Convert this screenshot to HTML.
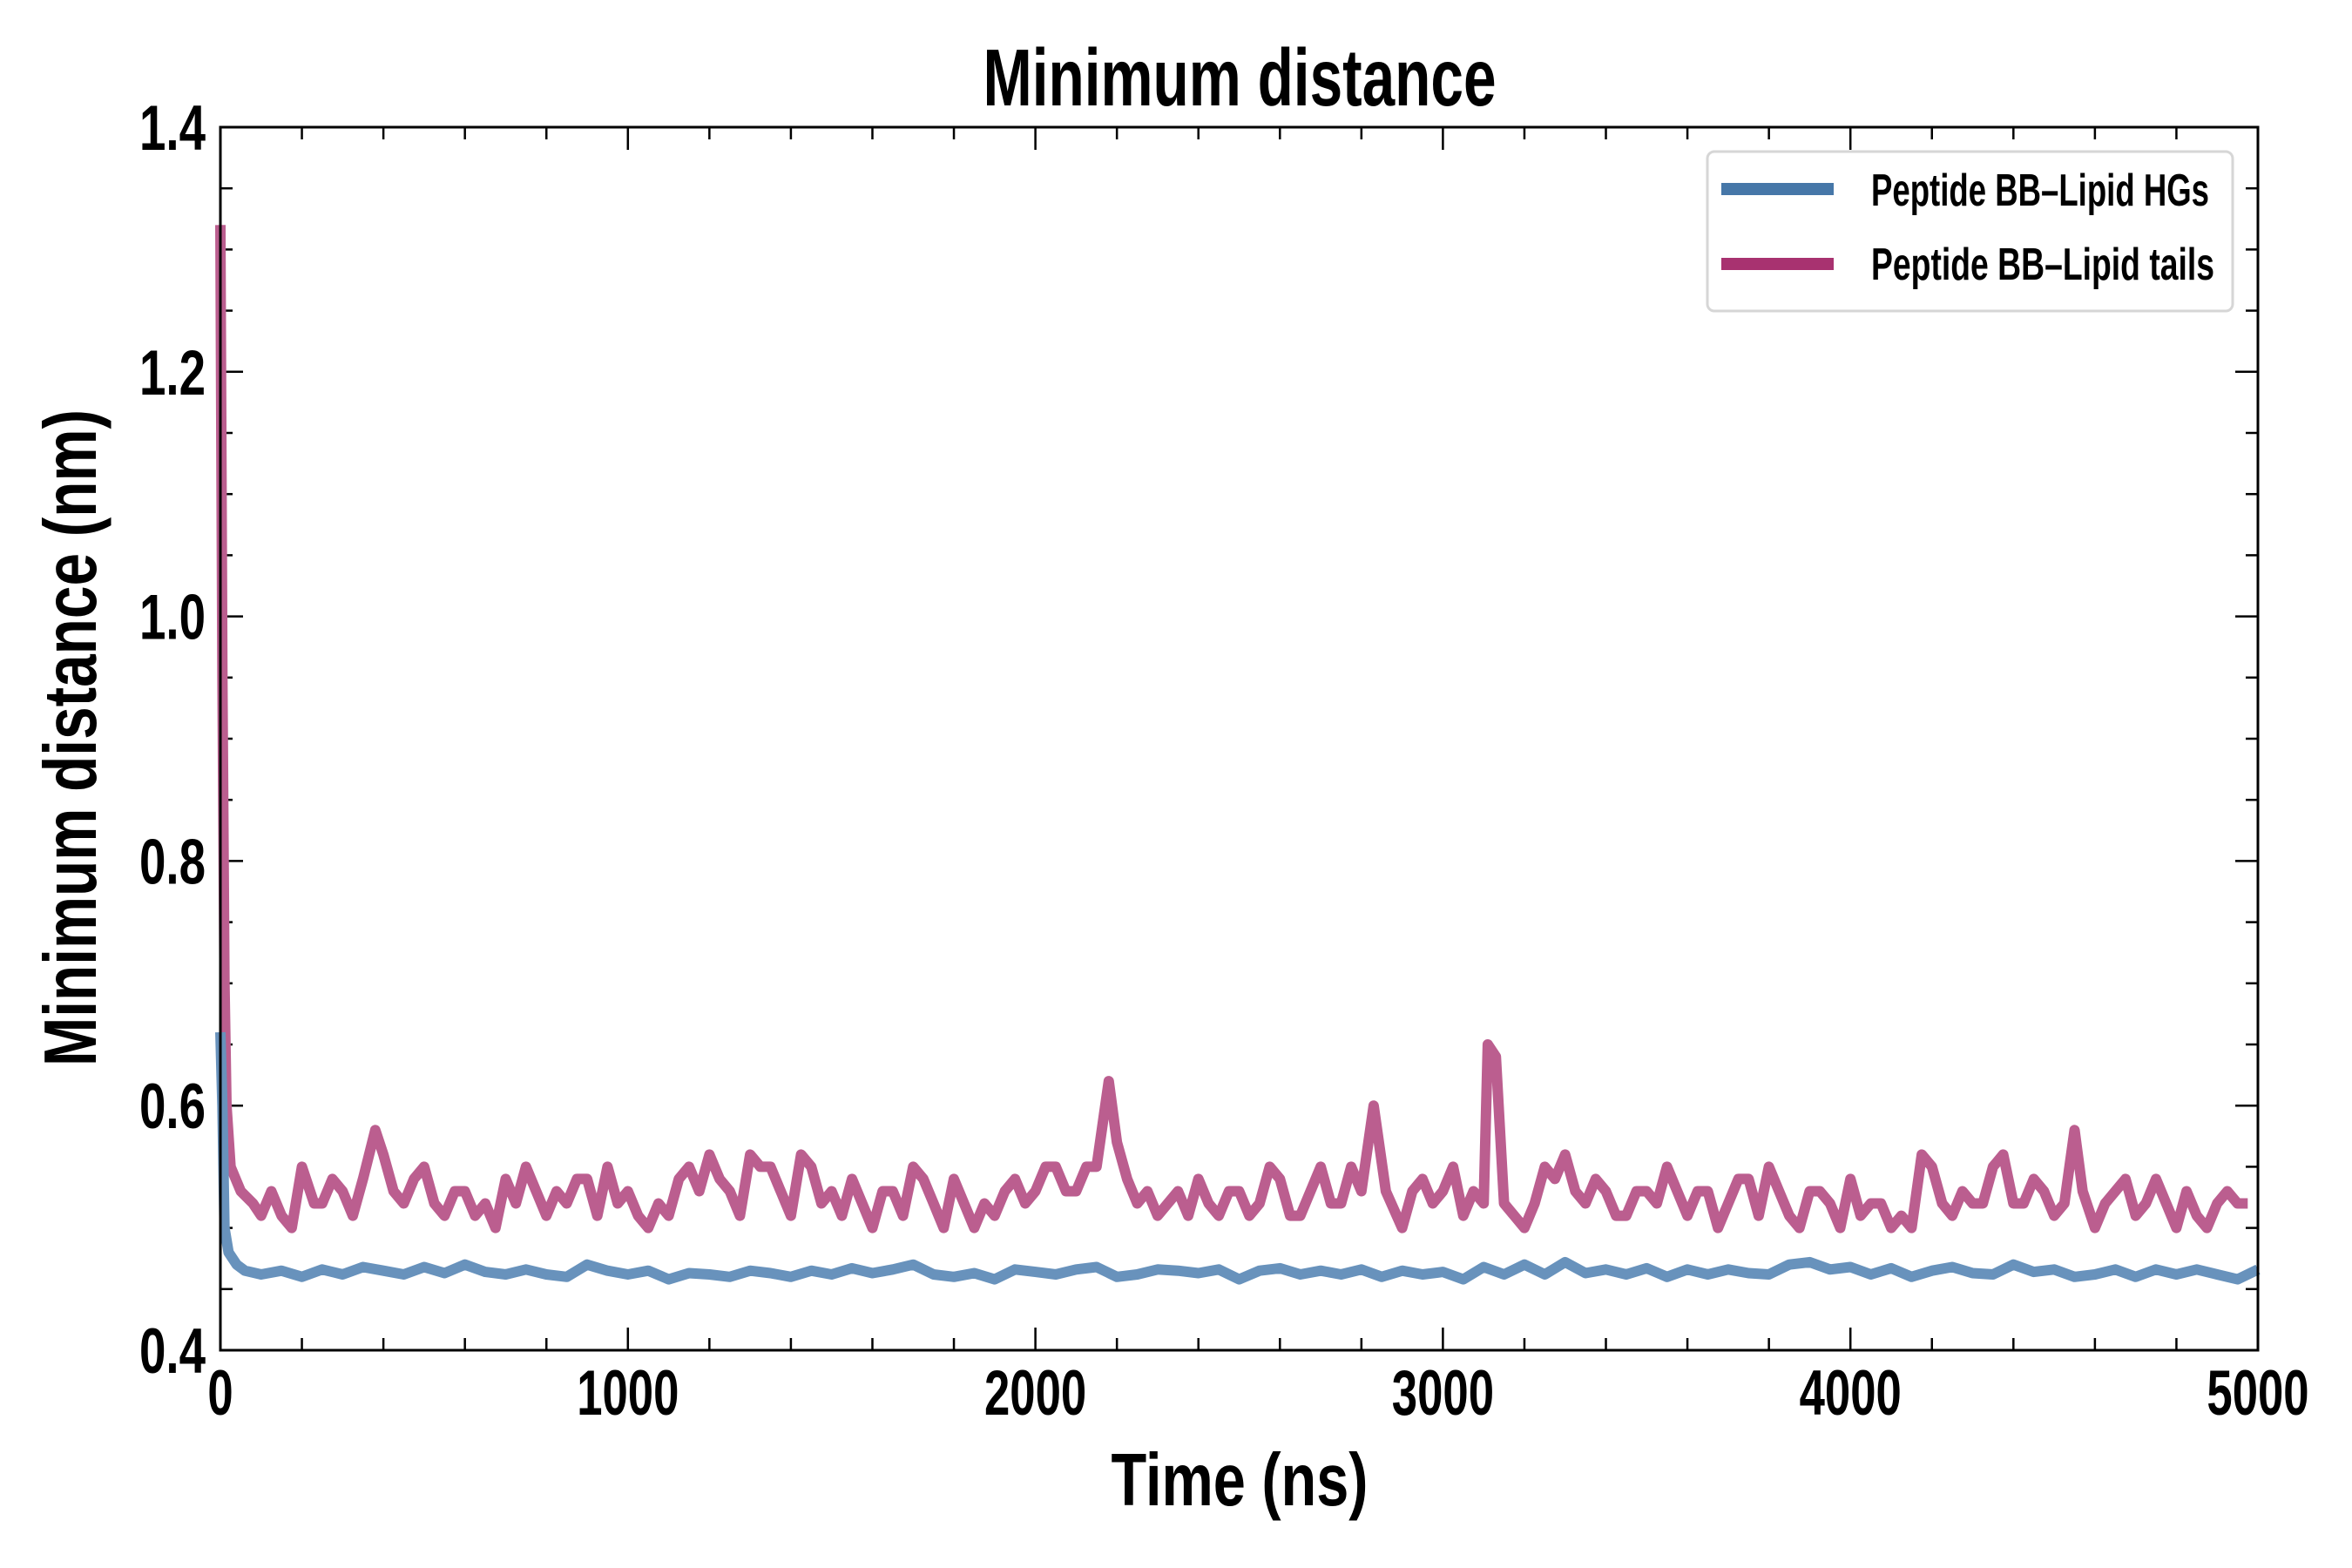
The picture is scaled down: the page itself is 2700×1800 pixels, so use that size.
<!DOCTYPE html>
<html><head><meta charset="utf-8"><style>
html,body{margin:0;padding:0;background:#fff;}
svg{display:block;font-family:"Liberation Sans Narrow","Liberation Sans",sans-serif;font-weight:bold;}
</style></head><body>
<svg id="chart" width="2700" height="1800" viewBox="0 0 2700 1800" xmlns="http://www.w3.org/2000/svg">
<rect width="2700" height="1800" fill="#fff"/>
<text x="1423" y="121" text-anchor="middle" font-size="93" textLength="589" lengthAdjust="spacingAndGlyphs">Minimum distance</text>
<g id="ticks"></g>
<g id="series"></g>
<rect x="253" y="146" width="2339" height="1404" fill="none" stroke="#000" stroke-width="3"/>
<text x="1423" y="1728" text-anchor="middle" font-size="85" textLength="295" lengthAdjust="spacingAndGlyphs">Time (ns)</text>
<text transform="translate(110,847) rotate(-90)" text-anchor="middle" font-size="85" textLength="754" lengthAdjust="spacingAndGlyphs">Minimum distance (nm)</text>
<g>
<rect x="1960" y="174" width="603" height="183" rx="8" fill="#fff" stroke="#d6d6d6" stroke-width="3"/>
<line x1="1976" y1="217" x2="2105" y2="217" stroke="#4677a8" stroke-width="14"/>
<text x="2148" y="236" font-size="52" textLength="388" lengthAdjust="spacingAndGlyphs">Peptide BB–Lipid HGs</text>
<line x1="1976" y1="303" x2="2105" y2="303" stroke="#a83270" stroke-width="14"/>
<text x="2148" y="321" font-size="52" textLength="394" lengthAdjust="spacingAndGlyphs">Peptide BB–Lipid tails</text>
</g>
</svg>
<script>
const xTicks = [0,1000,2000,3000,4000,5000];
const xTickLabels = ["0","1000","2000","3000","4000","5000"];
const yTicks = [0.4,0.6,0.8,1.0,1.2,1.4];
const yTickLabels = ["0.4","0.6","0.8","1.0","1.2","1.4"];
const tailsT = [0,5,10,15,25,50,80,100,125,150,175,200,230,250,275,300,325,350,380,400,425,450,475,500,525,550,575,600,625,650,675,700,725,750,775,800,825,850,875,900,925,950,975,1000,1025,1050,1075,1100,1125,1150,1175,1200,1225,1250,1275,1300,1325,1350,1375,1400,1425,1450,1475,1500,1525,1550,1575,1600,1625,1650,1675,1700,1725,1750,1775,1800,1825,1850,1875,1900,1925,1950,1975,2000,2025,2050,2075,2100,2125,2150,2180,2200,2225,2250,2275,2300,2325,2350,2375,2400,2425,2450,2475,2500,2525,2550,2575,2600,2625,2650,2675,2700,2725,2750,2775,2800,2830,2860,2900,2925,2950,2975,3000,3025,3050,3075,3100,3110,3130,3150,3175,3200,3225,3250,3275,3300,3325,3350,3375,3400,3425,3450,3475,3500,3525,3550,3575,3600,3625,3650,3675,3700,3725,3750,3775,3800,3825,3850,3875,3900,3925,3950,3975,4000,4025,4050,4075,4100,4125,4150,4175,4200,4225,4250,4275,4300,4325,4350,4375,4400,4425,4450,4475,4500,4525,4550,4570,4600,4625,4650,4675,4700,4725,4750,4775,4800,4825,4850,4875,4900,4925,4950,4975,5000];
const tailsV = [1.32,0.95,0.70,0.60,0.55,0.53,0.52,0.51,0.53,0.51,0.50,0.55,0.52,0.52,0.54,0.53,0.51,0.54,0.58,0.56,0.53,0.52,0.54,0.55,0.52,0.51,0.53,0.53,0.51,0.52,0.50,0.54,0.52,0.55,0.53,0.51,0.53,0.52,0.54,0.54,0.51,0.55,0.52,0.53,0.51,0.50,0.52,0.51,0.54,0.55,0.53,0.56,0.54,0.53,0.51,0.56,0.55,0.55,0.53,0.51,0.56,0.55,0.52,0.53,0.51,0.54,0.52,0.50,0.53,0.53,0.51,0.55,0.54,0.52,0.50,0.54,0.52,0.50,0.52,0.51,0.53,0.54,0.52,0.53,0.55,0.55,0.53,0.53,0.55,0.55,0.62,0.57,0.54,0.52,0.53,0.51,0.52,0.53,0.51,0.54,0.52,0.51,0.53,0.53,0.51,0.52,0.55,0.54,0.51,0.51,0.53,0.55,0.52,0.52,0.55,0.53,0.60,0.53,0.50,0.53,0.54,0.52,0.53,0.55,0.51,0.53,0.52,0.65,0.64,0.52,0.51,0.50,0.52,0.55,0.54,0.56,0.53,0.52,0.54,0.53,0.51,0.51,0.53,0.53,0.52,0.55,0.53,0.51,0.53,0.53,0.50,0.52,0.54,0.54,0.51,0.55,0.53,0.51,0.50,0.53,0.53,0.52,0.50,0.54,0.51,0.52,0.52,0.50,0.51,0.50,0.56,0.55,0.52,0.51,0.53,0.52,0.52,0.55,0.56,0.52,0.52,0.54,0.53,0.51,0.52,0.58,0.53,0.50,0.52,0.53,0.54,0.51,0.52,0.54,0.52,0.50,0.53,0.51,0.50,0.52,0.53,0.52,0.52];
const hgsT = [0,5,10,20,40,60,100,150,200,250,300,350,400,450,500,550,600,650,700,750,800,850,900,950,1000,1050,1100,1150,1200,1250,1300,1350,1400,1450,1500,1550,1600,1650,1700,1750,1800,1850,1900,1950,2000,2050,2100,2150,2200,2250,2300,2350,2400,2450,2500,2550,2600,2650,2700,2750,2800,2850,2900,2950,3000,3050,3100,3150,3200,3250,3300,3350,3400,3450,3500,3550,3600,3650,3700,3750,3800,3850,3900,3950,4000,4050,4100,4150,4200,4250,4300,4350,4400,4450,4500,4550,4600,4650,4700,4750,4800,4850,4900,4950,5000];
const hgsV = [0.66,0.60,0.50,0.48,0.47,0.465,0.462,0.465,0.460,0.466,0.462,0.468,0.465,0.462,0.468,0.463,0.470,0.464,0.462,0.466,0.462,0.460,0.470,0.465,0.462,0.465,0.458,0.463,0.462,0.460,0.465,0.463,0.460,0.465,0.462,0.467,0.463,0.466,0.470,0.462,0.460,0.463,0.458,0.466,0.464,0.462,0.466,0.468,0.460,0.462,0.466,0.465,0.463,0.466,0.458,0.465,0.467,0.462,0.465,0.462,0.466,0.460,0.465,0.462,0.464,0.458,0.468,0.462,0.470,0.462,0.472,0.463,0.466,0.462,0.467,0.460,0.466,0.462,0.466,0.463,0.462,0.470,0.472,0.466,0.468,0.462,0.467,0.460,0.465,0.468,0.463,0.462,0.470,0.464,0.466,0.460,0.462,0.466,0.460,0.466,0.462,0.466,0.462,0.458,0.466];
const NS='http://www.w3.org/2000/svg';
const L=253,R=2592,T=146,B=1550;
function sx(v){return L+(v-0)/(5000-0)*(R-L);}
function sy(v){return B-(v-0.4)/(1.4-0.4)*(B-T);}
const tg=document.getElementById('ticks');
function line(x1,y1,x2,y2,w){const l=document.createElementNS(NS,'line');l.setAttribute('x1',x1);l.setAttribute('y1',y1);l.setAttribute('x2',x2);l.setAttribute('y2',y2);l.setAttribute('stroke','#000');l.setAttribute('stroke-width',w);tg.appendChild(l);return l;}
for(let v=0;v<=5000;v+=200){const maj=v%1000===0;const len=maj?26:14;const x=sx(v);
 let a=line(x,B,x,B-len,2.5);
 
 
 let b=line(x,T,x,T+len,2.5);
 
 }
for(let i=0;i<=20;i++){const v=0.4+i*0.05;const maj=i%4===0;const len=maj?26:14;const y=sy(v);
 let a=line(L,y,L+len,y,2.5);
 
 
 let b=line(R,y,R-len,y,2.5);
 
 }
xTicks.forEach((v,i)=>{const t=document.createElementNS(NS,'text');t.setAttribute('x',sx(v));t.setAttribute('y',1624);t.setAttribute('text-anchor','middle');t.setAttribute('font-size','73');t.setAttribute('textLength',xTickLabels[i].length*29.3);t.setAttribute('lengthAdjust','spacingAndGlyphs');t.textContent=xTickLabels[i];
 
 
 tg.appendChild(t);});
yTicks.forEach((v,i)=>{const t=document.createElementNS(NS,'text');t.setAttribute('x',236);t.setAttribute('y',sy(v)+26);t.setAttribute('text-anchor','end');t.setAttribute('font-size','73');t.setAttribute('textLength',76);t.setAttribute('lengthAdjust','spacingAndGlyphs');t.textContent=yTickLabels[i];
 
 
 tg.appendChild(t);});
const sg=document.getElementById('series');
function path(ts,vs,color){const p=document.createElementNS(NS,'path');p.setAttribute('d',ts.map((t,i)=>(i?'L':'M')+sx(t).toFixed(1)+','+sy(vs[i]).toFixed(1)).join(''));p.setAttribute('fill','none');p.setAttribute('stroke',color);p.setAttribute('stroke-width','12');p.setAttribute('stroke-linejoin','round');sg.appendChild(p);return p;}
const pt=path(tailsT,tailsV,'#bb5e8f');


const ph=path(hgsT,hgsV,'#6892bc');


</script>
</body></html>
